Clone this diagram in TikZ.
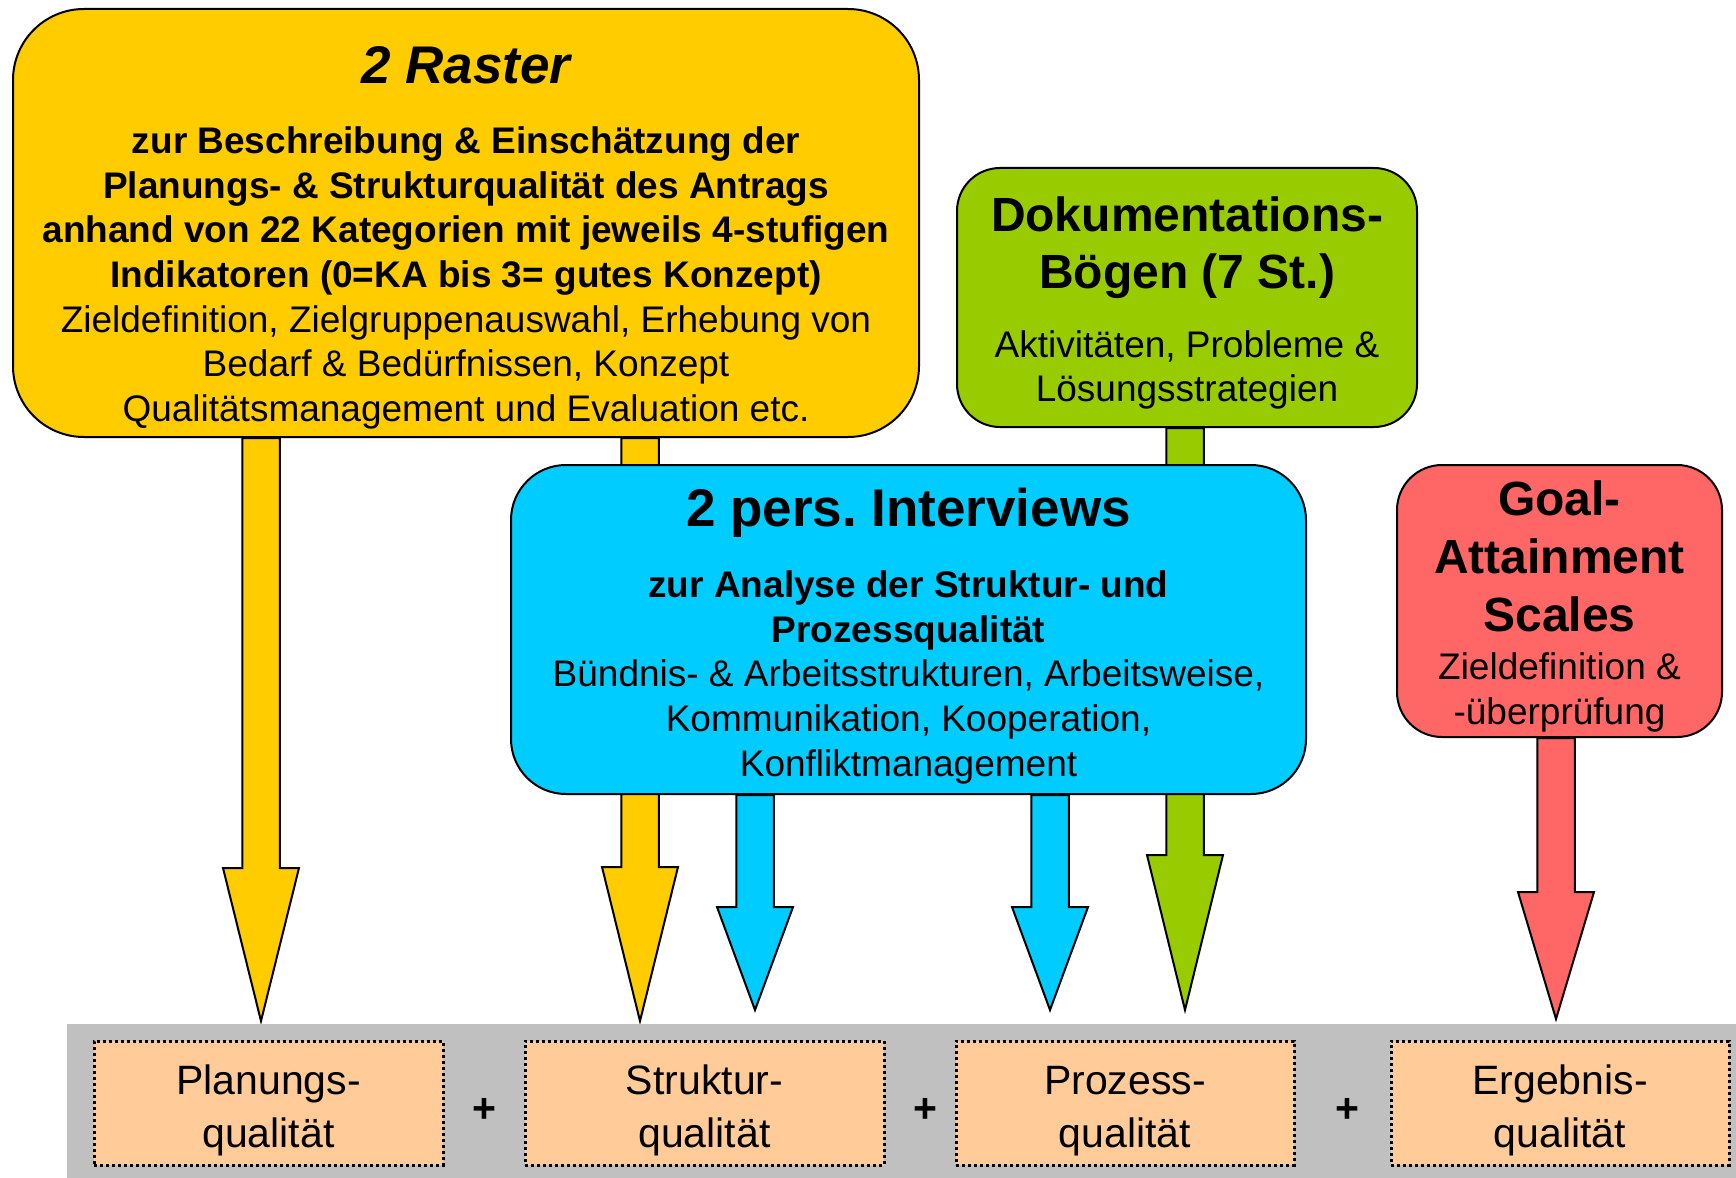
\documentclass[tikz,border=0pt]{standalone}
\usepackage{fontspec}
\setmainfont{Liberation Sans}
\usetikzlibrary{calc,backgrounds}
\definecolor{rastergelb}{HTML}{FFCC00}
\definecolor{dokugruen}{HTML}{99CC00}
\definecolor{interviewblau}{HTML}{00CCFF}
\definecolor{gasrot}{HTML}{FF6666}
\definecolor{qualorange}{HTML}{FFCC99}
\definecolor{bandgrau}{HTML}{C0C0C0}
\newcommand{\titelfont}{\fontsize{53}{64}\selectfont\bfseries}
\newcommand{\kopffont}{\fontsize{48}{57}\selectfont\bfseries}
\newcommand{\fettfont}{\fontsize{37}{44.7}\selectfont\bfseries}
\newcommand{\grundfont}{\fontsize{37}{44.7}\selectfont\mdseries}
\newcommand{\qualfont}{\fontsize{41}{53}\selectfont}
% #1 Farbe, #2 Anfang, #3 Spitze, #4 Laenge der Spitze
\newcommand{\blockpfeil}[4]{%
  \draw[pfeil, fill=#1] ($(#2)+(-\sw,0)$) -- ($(#3)+(-\sw,-#4)$) -- ($(#3)+(-\hw,-#4)$)
    -- (#3) -- ($(#3)+(\hw,-#4)$) -- ($(#3)+(\sw,-#4)$) -- ($(#2)+(\sw,0)$) -- cycle;}

\begin{document}
\begin{tikzpicture}[x=1pt, y=-1pt, line width=2pt,
    kasten/.style={draw=black, line width=2pt, inner sep=0pt},
    txt/.style={align=center, font={\grundfont\lineskiplimit=-100pt}},
    qual/.style={draw=black, line width=3pt, dash pattern=on 3pt off 3pt, fill=qualorange,
      minimum height=124pt, align=center, font=\qualfont, inner sep=0pt},
    pfeil/.style={draw=black, line width=2pt, line join=miter}]
  \def\sw{18.75} % halbe Schaftbreite
  \def\hw{38}    % halbe Breite der Spitze
  \useasboundingbox (0,0) rectangle (1736,1177);

  % grauer Balken unten
  \node[fill=bandgrau, anchor=north west, minimum width=1670pt, minimum height=154pt, inner sep=0pt] (band) at (66,1023) {};
  \node[qual, minimum width=349pt] (planung) at (268.5,1103) {\rule{0pt}{44pt}Planungs-\\qualität};
  \node[qual, minimum width=359pt] (struktur) at (704.5,1103) {\rule{0pt}{44pt}Struktur-\\qualität};
  \node[qual, minimum width=338pt] (prozess) at (1125,1103) {\rule{0pt}{44pt}Prozess-\\qualität};
  \node[qual, minimum width=338pt] (ergebnis) at (1560,1103) {\rule{0pt}{44pt}Ergebnis-\\qualität};
  \node[font=\qualfont\bfseries] (plusA) at (484,1110) {+};
  \node[font=\qualfont\bfseries] (plusB) at (925,1110) {+};
  \node[font=\qualfont\bfseries] (plusC) at (1347,1110) {+};

  % Kaesten
  \node[kasten, fill=rastergelb, minimum width=906pt, minimum height=428pt, rounded corners=71pt] (raster) at (466,223) {};
  \node[txt] (rastertxt) at (466,238) {\titelfont\itshape 2 Raster\\[25pt]
    \fettfont zur Beschreibung \& Einschätzung der\\
    \fettfont Planungs- \& Strukturqualität des Antrags\\
    \fettfont anhand von 22 Kategorien mit jeweils 4-stufigen\\
    \fettfont Indikatoren (0=KA bis 3= gutes Konzept)\\
    \grundfont Zieldefinition, Zielgruppenauswahl, Erhebung von\\
    \grundfont Bedarf \& Bedürfnissen, Konzept\\
    \grundfont Qualitätsmanagement und Evaluation etc.};
  \node[kasten, fill=dokugruen, minimum width=460pt, minimum height=259pt, rounded corners=43pt] (doku) at (1187,297.5) {};
  \node[txt] (dokutxt) at (1187,303) {\kopffont Dokumentations-\\[12.3pt]
    \kopffont Bögen (7 St.)\\[24pt]
    \grundfont Aktivitäten, Probleme \&\\
    \grundfont Lösungsstrategien};
  \node[kasten, fill=interviewblau, minimum width=795pt, minimum height=329pt, rounded corners=55pt] (interview) at (908.5,629.5) {};
  \node[txt] (interviewtxt) at (908.5,636) {\titelfont 2 pers.\ Interviews\\[26pt]
    \fettfont zur Analyse der Struktur- und\\
    \fettfont Prozessqualität\\
    \grundfont Bündnis- \& Arbeitsstrukturen, Arbeitsweise,\\
    \grundfont Kommunikation, Kooperation,\\
    \grundfont Konfliktmanagement};
  \node[kasten, fill=gasrot, minimum width=325pt, minimum height=272pt, rounded corners=45pt] (gas) at (1559.5,601) {};
  \node[txt] (gastxt) at (1559.5,606.5) {\kopffont Goal-\\[13.3pt]
    \kopffont Attainment\\[13.3pt]
    \kopffont Scales\\[3pt]
    \grundfont Zieldefinition \&\\
    \grundfont -überprüfung};

  % Pfeile hinter den Kaesten
  \coordinate (spitzePlan) at (261,1021);
  \coordinate (spitzeStrA) at (640,1021);
  \coordinate (spitzeStrB) at (755,1010);
  \coordinate (spitzeProA) at (1050,1010);
  \coordinate (spitzeProB) at (1185,1010);
  \coordinate (spitzeErg) at (1556,1019);
  \begin{scope}[on background layer]
    \blockpfeil{rastergelb}{raster.south -| spitzePlan}{spitzePlan}{153}
    \blockpfeil{rastergelb}{raster.south -| spitzeStrA}{spitzeStrA}{154}
    \blockpfeil{interviewblau}{interview.south -| spitzeStrB}{spitzeStrB}{103}
    \blockpfeil{interviewblau}{interview.south -| spitzeProA}{spitzeProA}{103}
    \blockpfeil{dokugruen}{doku.south -| spitzeProB}{spitzeProB}{155}
    \blockpfeil{gasrot}{gas.south -| spitzeErg}{spitzeErg}{127}
  \end{scope}
\end{tikzpicture}
\end{document}
